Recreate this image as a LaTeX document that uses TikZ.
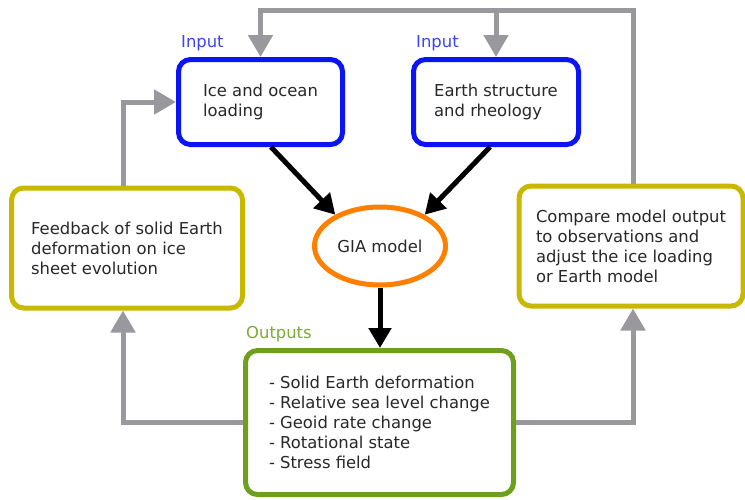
\documentclass[tikz,border=0pt]{standalone}
\usepackage{fontspec}
\setmainfont{DejaVu Sans}
\usetikzlibrary{arrows.meta,shapes.geometric}

\definecolor{boxblue}{RGB}{10,20,245}
\definecolor{boxyellow}{RGB}{200,185,0}
\definecolor{boxorange}{RGB}{255,128,0}
\definecolor{boxgreen}{RGB}{110,160,30}
\definecolor{loopgray}{RGB}{152,152,157}
\definecolor{textgray}{RGB}{40,40,40}

\begin{document}
\begin{tikzpicture}[x=1pt,y=-1pt,
  font=\fontsize{16.4}{20}\selectfont,
  box/.style={draw=#1, line width=5pt, rounded corners=12pt, fill=white,
    align=left, text=textgray, inner sep=0pt},
  loop/.style={draw=loopgray, line width=5pt, -{Triangle[width=24pt,length=22pt]}},
  feed/.style={draw=black, line width=5pt, -{Triangle[width=22pt,length=20pt]}}]
  \useasboundingbox (0,0) rectangle (745,499);
  \node[box=boxblue, minimum width=164pt, minimum height=85pt] (ice) at (260.5,102) {Ice and ocean\\loading};
  \node[box=boxblue, minimum width=165pt, minimum height=85pt] (earth) at (496,102) {Earth structure\\and rheology};
  \node[box=boxyellow, minimum width=231pt, minimum height=120pt] (feedback) at (127,248) {Feedback of solid Earth\\deformation on ice\\sheet evolution};
  \node[box=boxyellow, minimum width=224pt, minimum height=120pt] (compare) at (631,246) {Compare model output\\to observations and\\adjust the ice loading\\or Earth model};
  \node[box=boxgreen, minimum width=268pt, minimum height=144pt] (outputs) at (379.5,422.5) {- Solid Earth deformation\\- Relative sea level change\\- Geoid rate change\\- Rotational state\\- Stress field};
  \node[ellipse, draw=boxorange, line width=5pt, text=textgray, minimum width=131pt, minimum height=78pt, inner sep=0pt] (gia) at (380,246) {GIA model};
  \node[text=boxblue!80, anchor=west, inner sep=0pt] (inlabA) at (181,43) {Input};
  \node[text=boxblue!80, anchor=west, inner sep=0pt] (inlabB) at (416,43) {Input};
  \node[text=boxgreen!90, anchor=west, inner sep=0pt] (outlab) at (246,334) {Outputs};
  \coordinate (topright) at (633,10);
  \draw[loop] (compare.north -| topright) -- (topright) -| (ice.north);
  \draw[loop] (earth.north |- topright) -- (earth.north);
  \draw[loop] (feedback.north -| 123,0) |- (ice.west);
  \draw[loop] (outputs.west) -| (feedback.south -| 123,0);
  \draw[loop] (outputs.east) -| (compare.south -| topright);
  \draw[feed] (ice.south -| 271,0) -- (gia.145);
  \draw[feed] (earth.south -| 490,0) -- (gia.35);
  \draw[feed] (gia.south) -- (outputs.north -| gia.south);
\end{tikzpicture}
\end{document}
